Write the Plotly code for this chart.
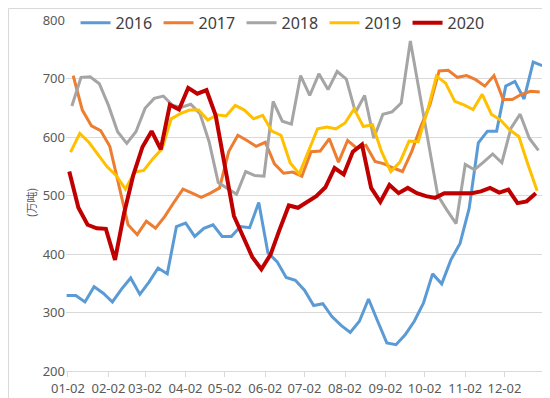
import datetime as dt
import plotly.graph_objects as go

# ---- data (weekly, 万吨) ----
series_names = ["2016", "2017", "2018", "2019", "2020"]
start_days = ["2001-01-01", "2001-01-06", "2001-01-05", "2001-01-04", "2001-01-03"]  # first weekly date mapped onto a common year

v2016 = [329, 329, 318, 344, 333, 318, 340, 359, 331, 352, 376, 366, 447, 453, 430, 444, 450, 430,
         430, 447, 445, 488, 402, 387, 360, 355, 338, 312, 315, 293, 278, 266, 285, 323, 285, 248,
         245, 262, 285, 316, 366, 349, 390, 418, 478, 590, 610, 610, 687, 695, 665, 728, 722]
v2017 = [705, 646, 619, 611, 584, 516, 450, 433, 456, 444, 464, 488, 511, 504, 497, 504, 513, 575,
         603, 594, 584, 591, 554, 538, 540, 533, 575, 576, 597, 557, 594, 581, 586, 558, 554, 547,
         541, 575, 618, 655, 713, 714, 702, 705, 698, 687, 705, 664, 664, 673, 678, 677]
v2018 = [653, 702, 703, 691, 654, 609, 589, 609, 649, 666, 670, 654, 651, 656, 640, 592, 522, 512,
         502, 541, 534, 533, 661, 627, 622, 705, 671, 708, 681, 712, 699, 642, 671, 598, 639, 643,
         658, 764, 675, 588, 500, 475, 452, 553, 544, 557, 571, 556, 615, 639, 598, 577]
v2019 = [574, 606, 591, 569, 549, 534, 511, 540, 543, 563, 580, 631, 640, 646, 646, 629, 638, 636,
         654, 646, 631, 637, 610, 603, 556, 537, 574, 614, 617, 614, 624, 648, 618, 621, 575, 541,
         557, 593, 592, 644, 704, 692, 661, 655, 647, 673, 639, 629, 612, 601, 553, 508]
v2020 = [541, 479, 450, 444, 443, 390, 470, 535, 583, 610, 579, 655, 647, 684, 674, 680, 637, 551,
         465, 430, 395, 374, 399, 442, 483, 479, 490, 499, 514, 547, 536, 575, 587, 513, 489, 518,
         504, 513, 504, 499, 496, 504, 504, 504, 504, 507, 513, 505, 510, 487, 490, 504]
series_values = [v2016, v2017, v2018, v2019, v2020]

tick_labels = ["01-02", "02-02", "03-02", "04-02", "05-02", "06-02",
               "07-02", "08-02", "09-02", "10-02", "11-02", "12-02"]
y_ticks = [200, 300, 400, 500, 600, 700, 800]
y_title = "(万吨)"

# ---- style ----
colors = ["#5B9BD5", "#ED7D31", "#A5A5A5", "#FFC000", "#C00000"]
widths = [3, 3, 3, 3, 4]

fig = go.Figure()
for name, start, vals, c, w in zip(series_names, start_days, series_values, colors, widths):
    d0 = dt.datetime.strptime(start, "%Y-%m-%d")
    xs = [d0 + dt.timedelta(days=7 * i) for i in range(len(vals))]
    fig.add_trace(go.Scatter(x=xs, y=vals, mode="lines", name=name,
                             line=dict(color=c, width=w)))

tickvals = [dt.datetime(2001, m, 2) for m in range(1, 13)]

fig.update_layout(
    width=550, height=398,
    margin=dict(l=58, r=15, t=12, b=35, autoexpand=False),
    paper_bgcolor="white", plot_bgcolor="white",
    font=dict(family="Noto Sans, Noto Sans CJK SC", color="#595959", size=13),
    showlegend=True,
    legend=dict(orientation="h", x=0.455, xanchor="center", y=1.04, yanchor="top",
                bgcolor="rgba(0,0,0,0)", font=dict(size=16, color="#404040"),
                itemwidth=30, tracegroupgap=0, entrywidth=38, entrywidthmode="pixels"),
    xaxis=dict(type="date", range=["2000-12-31T12:00", "2001-12-31T12:00"],
               tickvals=tickvals, ticktext=tick_labels, automargin=False,
               showgrid=False, showline=True, linecolor="#D9D9D9", linewidth=1,
               ticks="outside", ticklen=5, tickcolor="#D9D9D9",
               tickfont=dict(size=13, color="#595959"), zeroline=False),
    yaxis=dict(range=[200, 800], tickvals=y_ticks, showgrid=True, gridcolor="#D9D9D9",
               gridwidth=1, zeroline=False, showline=False, ticks="", automargin=False,
               tickfont=dict(size=13, color="#595959")),
    annotations=[dict(text=y_title, xref="paper", yref="paper", x=-0.095, y=0.48,
                      textangle=-90, showarrow=False,
                      font=dict(size=11, color="#595959", family="Noto Sans CJK SC"))],
    shapes=[dict(type="rect", xref="paper", yref="paper",
                 x0=-57.5 / 477, x1=(549.5 - 58) / 477,
                 y0=-(35 - 0.5) / 351, y1=1 + (12 - 0.5) / 351,
                 line=dict(color="#D9D9D9", width=1), fillcolor="rgba(0,0,0,0)", layer="below")],
)

fig.write_html("out.html")
